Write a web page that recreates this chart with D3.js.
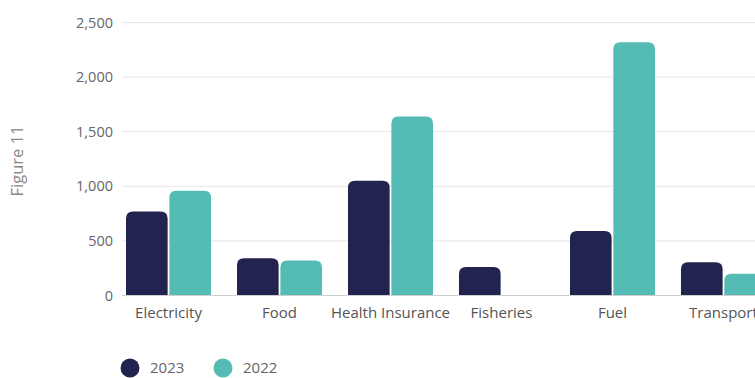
<!DOCTYPE html>
<html>
<head>
<meta charset="utf-8">
<script src="https://cdn.jsdelivr.net/npm/d3@7"></script>
<style>
  body { margin: 0; background: #fff; }
  svg { display: block; font-family: "Open Sans", sans-serif; }
</style>
</head>
<body>
<svg id="chart"></svg>
<script>
// data
const categories = ["Electricity", "Food", "Health Insurance", "Fisheries", "Fuel", "Transport"];
const series = ["2023", "2022"];
const values2023 = [770, 340, 1050, 260, 590, 305];
const values2022 = [960, 320, 1640, null, 2320, 200];
const yTicks = [0, 500, 1000, 1500, 2000, 2500];

const colors = {"2023": "#22244f", "2022": "#55bcb5"};

const width = 755, height = 378;
const svg = d3.select("#chart").attr("width", width).attr("height", height);

const x0 = d3.scaleBand()
    .domain(categories)
    .range([125, 767])
    .paddingInner(0.234)
    .paddingOuter(0.009);

const x1 = d3.scaleBand()
    .domain(series)
    .range([0, x0.bandwidth()])
    .paddingInner(0.04);

const y = d3.scaleLinear()
    .domain([0, 2500])
    .range([295.5, 22.5]);

// gridlines
svg.append("g")
    .selectAll("line")
    .data(yTicks.filter(d => d > 0))
    .join("line")
    .attr("x1", 122).attr("x2", width)
    .attr("y1", d => y(d)).attr("y2", d => y(d))
    .attr("stroke", "#e5e5e5")
    .attr("stroke-width", 1);

// y axis labels
svg.append("g")
    .selectAll("text")
    .data(yTicks)
    .join("text")
    .attr("x", 113)
    .attr("y", d => y(d))
    .attr("dy", "0.35em")
    .attr("text-anchor", "end")
    .attr("font-size", 14.5)
    .attr("fill", "#666")
    .text(d => d3.format(",")(d));

// rounded-top bar path
function barPath(x, yTop, w, h, r) {
    r = Math.min(r, w / 2, h);
    return `M${x},${yTop + h}V${yTop + r}Q${x},${yTop} ${x + r},${yTop}H${x + w - r}Q${x + w},${yTop} ${x + w},${yTop + r}V${yTop + h}Z`;
}

const rows = categories.map((c, i) => ({
    cat: c,
    bars: [
        {key: "2023", v: values2023[i]},
        {key: "2022", v: values2022[i]}
    ].filter(b => b.v != null)
}));

const groups = svg.append("g")
    .selectAll("g")
    .data(rows)
    .join("g")
    .attr("transform", d => `translate(${x0(d.cat)},0)`);

groups.selectAll("path")
    .data(d => d.bars)
    .join("path")
    .attr("d", b => barPath(x1(b.key), y(b.v), x1.bandwidth(), y(0) - y(b.v), 7))
    .attr("fill", b => colors[b.key]);

// baseline
svg.append("line")
    .attr("x1", 122).attr("x2", width)
    .attr("y1", y(0)).attr("y2", y(0))
    .attr("stroke", "#cfcfcf")
    .attr("stroke-width", 1.2);

// category labels
svg.append("g")
    .selectAll("text")
    .data(categories)
    .join("text")
    .attr("x", d => x0(d) + x0.bandwidth() / 2)
    .attr("y", 318)
    .attr("text-anchor", "middle")
    .attr("font-size", 15)
    .attr("fill", "#555")
    .text(d => d);

// side title
svg.append("text")
    .attr("transform", "translate(23,161) rotate(-90)")
    .attr("text-anchor", "middle")
    .attr("font-size", 16.5)
    .attr("fill", "#888")
    .text("Figure 11");

// legend
const legend = svg.append("g")
    .selectAll("g")
    .data(series)
    .join("g")
    .attr("transform", (d, i) => `translate(${130 + i * 93},368)`);

legend.append("circle")
    .attr("r", 9.5)
    .attr("fill", d => colors[d]);

legend.append("text")
    .attr("x", 20)
    .attr("dy", "0.35em")
    .attr("font-size", 15)
    .attr("fill", "#666")
    .text(d => d);
</script>
</body>
</html>
